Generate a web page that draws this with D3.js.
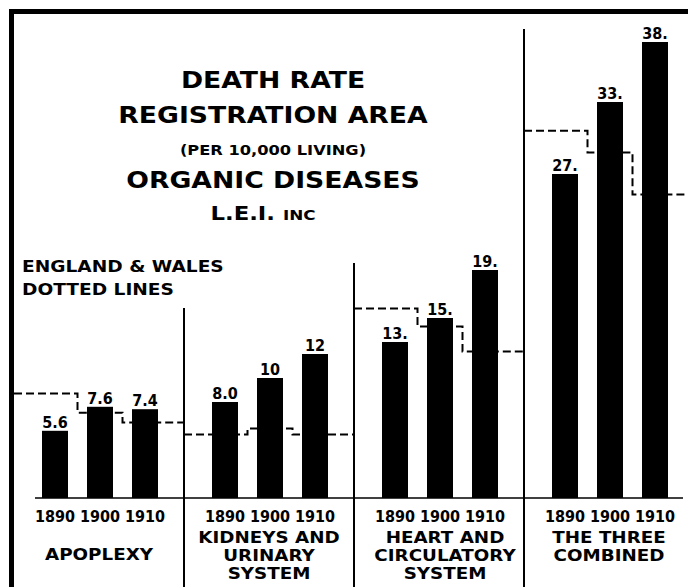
<!DOCTYPE html>
<html>
<head>
<meta charset="utf-8">
<script src="https://cdn.jsdelivr.net/npm/d3@7"></script>
<style>
body { margin: 0; background: #fff; }
</style>
</head>
<body>
<script>
// data
var groups = ["apoplexy", "kidneys", "heart", "combined"];
var groupLabels = [["APOPLEXY"], ["KIDNEYS AND", "URINARY", "SYSTEM"], ["HEART AND", "CIRCULATORY", "SYSTEM"], ["THE THREE", "COMBINED"]];
var years = ["1890", "1900", "1910"];
var usRates = [[5.6, 7.6, 7.4], [8.0, 10, 12], [13, 15, 19], [27, 33, 38]];
var rateLabels = [["5.6", "7.6", "7.4"], ["8.0", "10", "12"], ["13.", "15.", "19."], ["27.", "33.", "38."]];
// England & Wales, the dotted lines
var englandRates = [[8.7, 7.1, 6.3], [5.3, 5.8, 5.3], [15.8, 14.3, 12.2], [30.6, 28.8, 25.3]];
var titleLines = ["DEATH RATE", "REGISTRATION AREA", "(PER 10,000 LIVING)", "ORGANIC DISEASES"];
var legendLines = ["ENGLAND & WALES", "DOTTED LINES"];

var width = 688, height = 587, baseline = 498;
var titleFont = "'DejaVu Sans', sans-serif";
var numFont = "'DejaVu Sans Condensed', 'Liberation Sans Narrow', sans-serif";

var x0 = d3.scaleBand().domain(groups).range([14, 694]);
var x1 = d3.scalePoint().domain(years).range([41, 131]);
var y = d3.scaleLinear().domain([0, 40]).range([baseline, 18]);
var barWidth = 26;

var svg = d3.select("body").append("svg").attr("width", width).attr("height", height);

// frame (top and left heavy rules)
svg.append("rect").attr("x", 9).attr("y", 9).attr("width", width - 9).attr("height", 5).attr("fill", "#000");
svg.append("rect").attr("x", 9).attr("y", 9).attr("width", 5).attr("height", height - 9).attr("fill", "#000");

// group dividers
var dividerTops = [308, 263, 29];
groups.slice(1).forEach(function(g, i){
    svg.append("line")
        .attr("x1", x0(g)).attr("x2", x0(g))
        .attr("y1", dividerTops[i]).attr("y2", height)
        .attr("stroke", "#000").attr("stroke-width", 2);
});

// baseline
svg.append("line").attr("x1", 35).attr("x2", 683).attr("y1", baseline).attr("y2", baseline)
    .attr("stroke", "#000").attr("stroke-width", 1.5);

// england & wales step lines
var mid1 = (x1(years[0]) + x1(years[1])) / 2, mid2 = (x1(years[1]) + x1(years[2])) / 2;
var stepLine = d3.line().x(function(d){ return d[0]; }).y(function(d){ return y(d[1]); }).curve(d3.curveStepAfter);
groups.forEach(function(g, i){
    var e = englandRates[i], gx = x0(g);
    var pts = [[gx, e[0]], [gx + mid1, e[1]], [gx + mid2, e[2]], [gx + x0.bandwidth(), e[2]]];
    svg.append("path").attr("d", stepLine(pts))
        .attr("fill", "none").attr("stroke", "#000").attr("stroke-width", 2)
        .attr("stroke-dasharray", "8,4");
});

// bars, value labels, year labels
groups.forEach(function(g, i){
    var gx = x0(g);
    var rows = years.map(function(yr, j){ return {year: yr, value: usRates[i][j], label: rateLabels[i][j]}; });
    var grp = svg.append("g").attr("transform", "translate(" + gx + ",0)");
    grp.selectAll("rect").data(rows).enter().append("rect")
        .attr("x", function(d){ return x1(d.year) - barWidth / 2; })
        .attr("y", function(d){ return y(d.value); })
        .attr("width", barWidth)
        .attr("height", function(d){ return baseline - y(d.value); })
        .attr("fill", "#000");
    grp.selectAll("text.val").data(rows).enter().append("text").attr("class", "val")
        .attr("x", function(d){ return x1(d.year); })
        .attr("y", function(d){ return y(d.value) - 3; })
        .attr("text-anchor", "middle")
        .attr("font-family", numFont).attr("font-weight", "bold").attr("font-size", "16px")
        .text(function(d){ return d.label; });
    grp.selectAll("text.yr").data(rows).enter().append("text").attr("class", "yr")
        .attr("x", function(d){ return x1(d.year); })
        .attr("y", 522)
        .attr("text-anchor", "middle")
        .attr("font-family", numFont).attr("font-weight", "bold").attr("font-size", "16px")
        .text(function(d){ return d.year; });
    // category name under the years
    var lines = groupLabels[i];
    var cx = gx + x0.bandwidth() / 2 + (g == "heart" ? 6 : 0);
    lines.forEach(function(line, k){
        var ly = lines.length == 1 ? 560 : 543 + k * 18;
        svg.append("text")
            .attr("transform", "translate(" + cx + "," + ly + ") scale(1.22,1)")
            .attr("text-anchor", "middle")
            .attr("font-family", titleFont).attr("font-weight", "bold").attr("font-size", "15px")
            .text(line);
    });
});

// title block
var titleY = [88, 123, 155, 188];
var titleSize = [23, 23, 14, 23];
titleLines.forEach(function(line, k){
    svg.append("text")
        .attr("transform", "translate(273," + titleY[k] + ") scale(1.16,1)")
        .attr("text-anchor", "middle")
        .attr("font-family", titleFont).attr("font-weight", "bold").attr("font-size", titleSize[k] + "px")
        .text(line);
});
var lei = svg.append("text")
    .attr("transform", "translate(263,220) scale(1.2,1)")
    .attr("text-anchor", "middle")
    .attr("font-family", titleFont).attr("font-weight", "bold").attr("font-size", "19px");
lei.append("tspan").text("L.E.I. ");
lei.append("tspan").attr("font-size", "14px").text("INC");

// legend note
legendLines.forEach(function(line, k){
    svg.append("text")
        .attr("transform", "translate(22," + (272 + k * 23) + ") scale(1.24,1)")
        .attr("font-family", titleFont).attr("font-weight", "bold").attr("font-size", "15px")
        .text(line);
});
</script>
</body>
</html>
